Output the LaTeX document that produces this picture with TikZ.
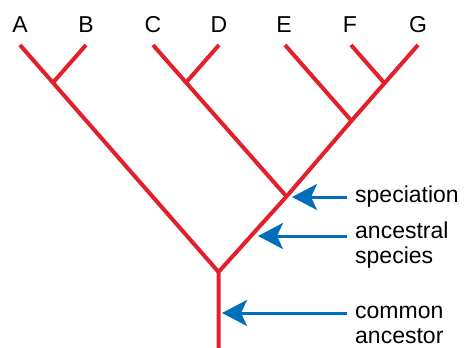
\documentclass[tikz,border=0pt]{standalone}
\usepackage{fontspec}
\setmainfont{Liberation Sans}
\usetikzlibrary{arrows.meta}
\definecolor{treered}{RGB}{226,32,44}
\definecolor{arrowblue}{RGB}{0,110,186}
\tikzset{
  branch/.style={treered,line width=4pt},
  pointer/.style={arrowblue,line width=3pt,-{Stealth[length=25pt,width=26pt,inset=6pt]}},
  tip/.style={inner sep=0pt,font=\fontsize{23}{25}\selectfont},
  note/.style={inner sep=0pt,anchor=west,align=left,font=\fontsize{23}{25}\selectfont}
}
\begin{document}
\begin{tikzpicture}[x=1pt,y=-1pt]
        \useasboundingbox (0,0) rectangle (466,348);
        % tips of the tree
        \coordinate (a) at (20,45);
        \coordinate (b) at (86,45);
        \coordinate (c) at (153,45);
        \coordinate (d) at (219,45);
        \coordinate (e) at (285,45);
        \coordinate (f) at (351,45);
        \coordinate (g) at (418,45);
        % branching points
        \coordinate (ab) at (53,82.6);
        \coordinate (cd) at (186,82.6);
        \coordinate (fg) at (384.5,83.2);
        \coordinate (efg) at (351.5,120.8);
        \coordinate (spec) at (286.5,196.5);
        \coordinate (root) at (218.5,272);
        \coordinate (base) at (218.5,348);
        % labels
        \node [tip] (la) at (20,25) {A};
        \node [tip] (lb) at (86,25) {B};
        \node [tip] (lc) at (153,25) {C};
        \node [tip] (ld) at (219,25) {D};
        \node [tip] (le) at (284,25) {E};
        \node [tip] (lf) at (350,25) {F};
        \node [tip] (lg) at (418,25) {G};
        % branches
        \draw [branch] (a) -- (root);
        \draw [branch] (b) -- (ab);
        \draw [branch] (c) -- (spec);
        \draw [branch] (d) -- (cd);
        \draw [branch] (e) -- (efg);
        \draw [branch] (f) -- (fg);
        \draw [branch] (g) -- (efg) -- (spec) -- (root) -- (base);
        % arrows and notes
        \node [note] (nspec) at (355,197) {speciation};
        \node [note] (nanc) at (355,245.5) {ancestral\\species};
        \node [note] (ncom) at (355,324.5) {common\\ancestor};
        \coordinate (pspec) at (292,197);
        \coordinate (panc) at (258,236);
        \coordinate (pcom) at (222,313);
        \draw [pointer] (nspec.west) ++(-8,0) -- (pspec);
        \draw [pointer] (nanc.west |- panc) ++(-8,0) -- (panc);
        \draw [pointer] (ncom.west |- pcom) ++(-8,0) -- (pcom);
\end{tikzpicture}
\end{document}
